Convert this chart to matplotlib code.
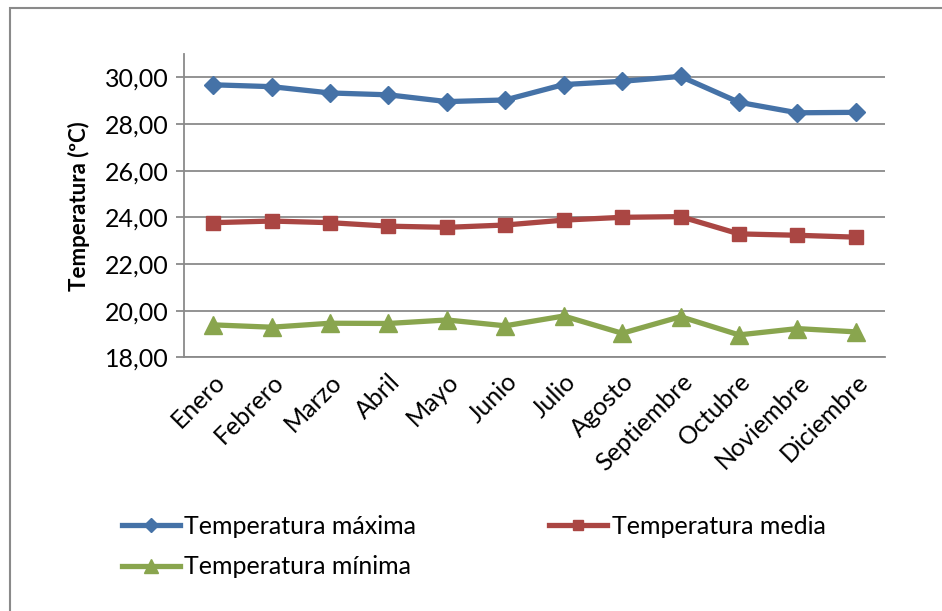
import matplotlib
matplotlib.use("Agg")
import matplotlib.pyplot as plt
from matplotlib.patches import Rectangle

plt.rcParams['font.family'] = ['Lato', 'DejaVu Sans']

meses = ['Enero', 'Febrero', 'Marzo', 'Abril', 'Mayo', 'Junio', 'Julio',
         'Agosto', 'Septiembre', 'Octubre', 'Noviembre', 'Diciembre']
temp_max = [29.68, 29.60, 29.33, 29.25, 28.96, 29.03, 29.69, 29.83, 30.04, 28.93, 28.48, 28.50]
temp_media = [23.77, 23.84, 23.77, 23.62, 23.57, 23.67, 23.88, 24.00, 24.03, 23.29, 23.23, 23.15]
temp_min = [19.39, 19.29, 19.46, 19.45, 19.60, 19.35, 19.77, 19.03, 19.74, 18.96, 19.23, 19.09]
y_ticks = [18, 20, 22, 24, 26, 28, 30]
y_labels = ['18,00', '20,00', '22,00', '24,00', '26,00', '28,00', '30,00']

azul = '#4572a7'
rojo = '#aa4643'
verde = '#89a54e'
gris = '#8a8a8a'

fig = plt.figure(figsize=(9.42, 6.11), dpi=100)
# marco del grafico
fig.patches.append(Rectangle((9.5 / 942, -0.1), 1.2, 1 - 7.5 / 611 + 0.1, transform=fig.transFigure,
                             fill=False, edgecolor=gris, linewidth=1.5))
ax = fig.add_axes([184 / 942, 1 - 357.3 / 611, (885 - 184) / 942, (357.3 - 54) / 611])

x = range(len(meses))
l1, = ax.plot(x, temp_max, color=azul, lw=3.8, marker='D', ms=9, mec=azul, label='Temperatura máxima')
l2, = ax.plot(x, temp_media, color=rojo, lw=3.8, marker='s', ms=10.5, mec=rojo, label='Temperatura media')
l3, = ax.plot(x, temp_min, color=verde, lw=3.8, marker='^', ms=13, mec=verde, label='Temperatura mínima')

ax.set_xlim(-0.5, len(meses) - 0.5)
ax.set_ylim(18, 31)
ax.set_yticks(y_ticks)
ax.set_yticklabels(y_labels, fontsize=18)
ax.set_xticks(list(x))
ax.set_xticklabels(meses, fontsize=18, rotation=45, ha='right', va='top', rotation_mode='anchor')
ax.tick_params(axis='x', length=0, pad=9)
ax.tick_params(axis='y', length=6, width=1.3, color=gris, pad=5)
ax.grid(axis='y', color=gris, lw=1.3)
ax.set_axisbelow(True)
for s in ['top', 'right']:
    ax.spines[s].set_visible(False)
for s in ['left', 'bottom']:
    ax.spines[s].set_color(gris)
    ax.spines[s].set_linewidth(1.3)
ax.set_ylabel('Temperatura (ºC)', fontsize=16, fontweight='bold', labelpad=11)

fig.legend([l1, l3, l2], ['Temperatura máxima', 'Temperatura mínima', 'Temperatura media'],
           ncol=2, loc='upper left', bbox_to_anchor=(122 / 942, 1 - 515 / 611), frameon=False,
           fontsize=18, handlelength=2.3, handletextpad=0.2, columnspacing=5.3, labelspacing=0.7,
           borderpad=0, borderaxespad=0, markerscale=0.75)

fig.savefig('out.png', dpi=100)
